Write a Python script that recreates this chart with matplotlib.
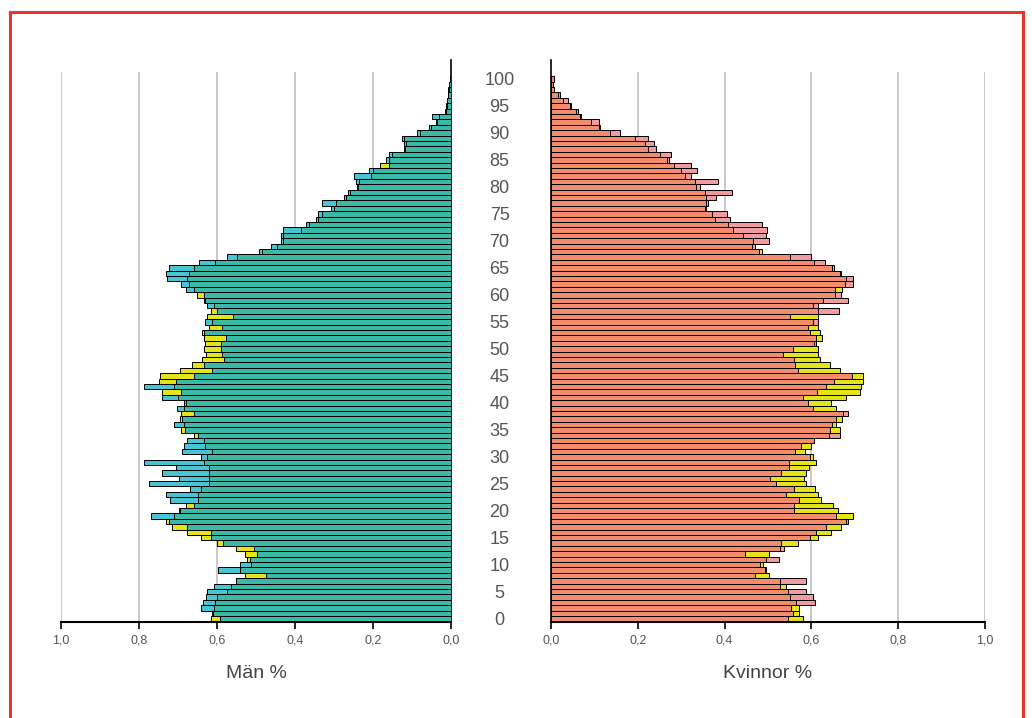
import numpy as np
import matplotlib
matplotlib.use('Agg')
import matplotlib.pyplot as plt
from matplotlib.lines import Line2D

plt.rcParams['font.family'] = ['Liberation Sans', 'DejaVu Sans']

ages = np.arange(0, 101)

# men, local population vs reference (percent of total)
men_local = [0.592, 0.613, 0.640, 0.635, 0.627, 0.625, 0.608, 0.552, 0.475, 0.597,
             0.540, 0.515, 0.497, 0.505, 0.584, 0.616, 0.616, 0.676, 0.723, 0.770,
             0.698, 0.659, 0.720, 0.732, 0.668, 0.775, 0.698, 0.740, 0.704, 0.788,
             0.642, 0.689, 0.685, 0.678, 0.650, 0.683, 0.710, 0.690, 0.660, 0.702,
             0.685, 0.740, 0.693, 0.787, 0.706, 0.660, 0.612, 0.634, 0.582, 0.586,
             0.590, 0.590, 0.578, 0.634, 0.586, 0.631, 0.558, 0.600, 0.625, 0.634,
             0.634, 0.680, 0.693, 0.728, 0.732, 0.723, 0.646, 0.574, 0.492, 0.462,
             0.437, 0.437, 0.430, 0.372, 0.347, 0.340, 0.308, 0.331, 0.274, 0.265,
             0.241, 0.244, 0.250, 0.210, 0.158, 0.167, 0.160, 0.120, 0.120, 0.126,
             0.086, 0.056, 0.039, 0.049, 0.015, 0.013, 0.010, 0.008, 0.007, 0.005,
             0.003]
men_ref = [0.615, 0.610, 0.608, 0.605, 0.600, 0.574, 0.565, 0.550, 0.527, 0.540,
           0.514, 0.524, 0.527, 0.552, 0.601, 0.642, 0.676, 0.715, 0.732, 0.710,
           0.695, 0.680, 0.650, 0.650, 0.640, 0.620, 0.620, 0.620, 0.620, 0.634,
           0.625, 0.612, 0.630, 0.634, 0.660, 0.692, 0.685, 0.695, 0.693, 0.685,
           0.680, 0.700, 0.740, 0.710, 0.749, 0.745, 0.695, 0.664, 0.638, 0.629,
           0.634, 0.631, 0.634, 0.638, 0.621, 0.612, 0.625, 0.616, 0.608, 0.630,
           0.651, 0.660, 0.672, 0.676, 0.672, 0.660, 0.604, 0.548, 0.484, 0.445,
           0.432, 0.430, 0.385, 0.364, 0.340, 0.330, 0.300, 0.295, 0.270, 0.258,
           0.238, 0.235, 0.205, 0.200, 0.182, 0.160, 0.152, 0.118, 0.115, 0.120,
           0.080, 0.052, 0.036, 0.030, 0.014, 0.011, 0.009, 0.007, 0.006, 0.004,
           0.003]

# women
women_local = [0.545, 0.558, 0.554, 0.608, 0.604, 0.587, 0.527, 0.587, 0.471, 0.496,
               0.482, 0.525, 0.446, 0.538, 0.531, 0.596, 0.610, 0.634, 0.684, 0.657,
               0.561, 0.561, 0.571, 0.541, 0.561, 0.518, 0.504, 0.531, 0.548, 0.548,
               0.596, 0.562, 0.575, 0.607, 0.667, 0.642, 0.648, 0.656, 0.684, 0.604,
               0.592, 0.581, 0.613, 0.633, 0.651, 0.694, 0.569, 0.563, 0.561, 0.535,
               0.558, 0.610, 0.611, 0.596, 0.592, 0.615, 0.550, 0.664, 0.615, 0.684,
               0.669, 0.655, 0.697, 0.696, 0.669, 0.651, 0.632, 0.600, 0.480, 0.470,
               0.502, 0.495, 0.498, 0.486, 0.412, 0.405, 0.358, 0.362, 0.380, 0.417,
               0.344, 0.385, 0.323, 0.336, 0.323, 0.272, 0.276, 0.241, 0.237, 0.224,
               0.158, 0.114, 0.110, 0.070, 0.062, 0.047, 0.039, 0.020, 0.008, 0.005,
               0.008]
women_ref = [0.581, 0.572, 0.572, 0.565, 0.550, 0.547, 0.542, 0.527, 0.502, 0.492,
             0.488, 0.496, 0.502, 0.527, 0.569, 0.615, 0.646, 0.669, 0.680, 0.696,
             0.661, 0.650, 0.623, 0.615, 0.608, 0.588, 0.584, 0.588, 0.594, 0.611,
             0.604, 0.585, 0.598, 0.605, 0.640, 0.665, 0.657, 0.671, 0.673, 0.657,
             0.646, 0.680, 0.711, 0.715, 0.719, 0.719, 0.667, 0.642, 0.619, 0.615,
             0.615, 0.607, 0.625, 0.619, 0.615, 0.604, 0.615, 0.615, 0.604, 0.627,
             0.654, 0.671, 0.677, 0.680, 0.665, 0.648, 0.607, 0.550, 0.487, 0.462,
             0.465, 0.442, 0.419, 0.408, 0.377, 0.370, 0.355, 0.358, 0.358, 0.355,
             0.335, 0.331, 0.308, 0.300, 0.283, 0.268, 0.250, 0.224, 0.216, 0.193,
             0.135, 0.110, 0.093, 0.066, 0.058, 0.044, 0.028, 0.016, 0.007, 0.004,
             0.006]

x_ticks = [0.0, 0.2, 0.4, 0.6, 0.8, 1.0]
x_ticklabels = ['0,0', '0,2', '0,4', '0,6', '0,8', '1,0']
age_ticks = list(range(0, 101, 5))

YELLOW = '#e4e41c'
TXT = '#555555'


def draw_side(ax, local, ref, main_col, over_col):
    local = np.array(local)
    ref = np.array(ref)
    hi = np.maximum(local, ref)
    lo = np.minimum(local, ref)
    ext_cols = [over_col if l > r else YELLOW for l, r in zip(local, ref)]
    ax.vlines(x_ticks[1:], -0.6, 101.3, color='#c9c9c9', lw=1.4, zorder=0)
    ax.barh(ages, hi, height=1.0, color=ext_cols, edgecolor='black', lw=0.7, zorder=2)
    ax.barh(ages, lo, height=1.0, color=main_col, edgecolor='black', lw=0.7, zorder=3)
    ax.set_ylim(-0.6, 103.5)
    ax.set_xticks(x_ticks)
    ax.set_xticklabels(x_ticklabels)
    ax.tick_params(axis='x', length=5, width=1.2, colors='black', labelcolor=TXT,
                   labelsize=9, pad=4)
    ax.spines['top'].set_visible(False)
    ax.spines['bottom'].set_linewidth(1.5)


fig = plt.figure(figsize=(10.32, 7.18), dpi=100)
ax_m = fig.add_axes([61 / 1032, 96 / 718, 390 / 1032, 562 / 718])
ax_w = fig.add_axes([551 / 1032, 96 / 718, 434 / 1032, 562 / 718])

draw_side(ax_m, men_local, men_ref, '#3cb9a6', '#48c4d2')
ax_m.set_xlim(1.0, 0.0)
ax_m.spines['left'].set_visible(False)
ax_m.spines['right'].set_linewidth(1.2)
ax_m.yaxis.tick_right()
ax_m.set_yticks(age_ticks)
ax_m.set_yticklabels([str(a) for a in age_ticks])
ax_m.tick_params(axis='y', length=0, pad=35, labelsize=13, labelcolor=TXT)
for lab in ax_m.get_yticklabels():
    lab.set_horizontalalignment('center')
ax_m.set_xlabel('Män %', fontsize=14, color='#444444', labelpad=13)

draw_side(ax_w, women_local, women_ref, '#f28c6c', '#f09aa2')
ax_w.set_xlim(0.0, 1.0)
ax_w.spines['right'].set_visible(False)
ax_w.spines['left'].set_linewidth(1.2)
ax_w.set_yticks([])
ax_w.set_xlabel('Kvinnor %', fontsize=14, color='#444444', labelpad=13)

# red frame
fig.add_artist(Line2D([9.5 / 1032, 9.5 / 1032], [0, 1 - 12 / 718], transform=fig.transFigure,
                      color='#e8362c', lw=2.2))
fig.add_artist(Line2D([9.5 / 1032, 1023 / 1032], [1 - 12 / 718, 1 - 12 / 718],
                      transform=fig.transFigure, color='#e8362c', lw=2.2))
fig.add_artist(Line2D([1023 / 1032, 1023 / 1032], [0, 1 - 12 / 718], transform=fig.transFigure,
                      color='#e8362c', lw=2.2))

fig.savefig('out.png', dpi=100)
